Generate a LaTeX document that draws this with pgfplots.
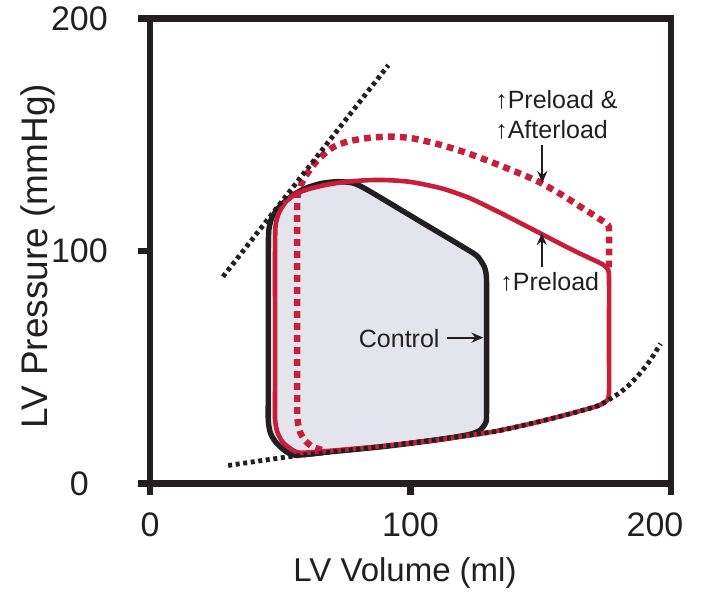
\documentclass[border=0pt]{standalone}
\usepackage{pgfplots}
\pgfplotsset{compat=1.18}
\usepackage{fontspec}
\setmainfont{Liberation Sans}
\usetikzlibrary{arrows.meta}

\definecolor{pvred}{RGB}{200,30,58}
\definecolor{pvfill}{RGB}{228,228,236}
\definecolor{ink}{RGB}{35,31,32}

\begin{document}
\begin{tikzpicture}
\begin{axis}[
  scale only axis,
  width=260.5pt, height=232.5pt,
  xmin=0, xmax=200, ymin=0, ymax=200,
  xtick={0,100,200}, ytick={0,100,200},
  xticklabels={0,100,{\hspace*{-16pt}200}},
  tick align=outside, tick pos=left,
  major tick length=5.8pt,
  axis line style={line width=3.2pt, color=ink},
  tick style={line width=3.2pt, color=ink},
  tick label style={font=\fontsize{17}{20}\selectfont, text=ink},
  /pgf/number format/assume math mode=true,
  yticklabel style={anchor=center, xshift=-29.5pt},
  xticklabel style={anchor=center, yshift=-15pt},
  clip=false,
  every axis plot/.append style={line join=round},
]
% bounding box of the whole picture
\path (axis cs:-57.6,-48.6) rectangle (axis cs:212.3,206.5);

% control loop, filled
\addplot[draw=none, fill=pvfill, smooth, tension=0.4] coordinates {
  (45.4,80) (45.4,40) (45.4,27) (46.3,21.5) (48.5,17.5) (52,14) (56,12.2)
  (70,13.8) (90,16) (110,18.8) (122,21) (126.5,22.8) (128.8,26) (129.2,30)
  (129.2,60) (129.2,87) (128.6,92.5) (126.9,96) (124,99.2)
  (104,112.6) (84,126) (78,129.3) (72,129.9) (66,129.2)
  (60,127.2) (55,124.2) (50,119.5) (46.8,114.5) (45.6,109) (45.4,100) (45.4,80)
} -- cycle;
\addplot[ink, line width=2.7pt, smooth, tension=0.4] coordinates {
  (45.4,80) (45.4,40) (45.4,27) (46.3,21.5) (48.5,17.5) (52,14) (56,12.2)
  (70,13.8) (90,16) (110,18.8) (122,21) (126.5,22.8) (128.8,26) (129.2,30)
  (129.2,60) (129.2,87) (128.6,92.5) (126.9,96) (124,99.2)
  (104,112.6) (84,126) (78,129.3) (72,129.9) (66,129.2)
  (60,127.2) (55,124.2) (50,119.5) (46.8,114.5) (45.6,109) (45.4,100) (45.4,80)
} -- cycle;

% increased preload
\addplot[pvred, line width=2.3pt, smooth, tension=0.4] coordinates {
  (48,80) (48,40) (48,28) (48.8,22.5) (50.8,18) (54,15) (57.6,13.3)
  (70,14.2) (90,16.2) (110,18.8) (130,22) (145,25.5) (157,28.8) (166,31.5)
  (172,33.5) (175.2,35.5) (176.2,39) (176.2,60) (176.2,89) (175.5,92.5)
  (173.5,94.5) (165,99) (157,103.5) (148.4,108.5) (135,116.2) (122.8,122.8)
  (112,127) (100,129.8) (90,130.6) (83,130.5) (75,129.8) (68,128.6)
  (61.5,126.9) (56.3,124.8) (52.3,121.5) (49.5,116.5) (48.2,111) (48,100) (48,80)
} -- cycle;

% increased preload and afterload
\addplot[pvred, line width=3.2pt, dash pattern=on 3.4pt off 2.6pt, smooth, tension=0.4] coordinates {
  (176.2,93) (176.2,109.5) (175.2,111.8) (171,115) (165,119.3) (158,124.3)
  (148.4,130.3) (135,136.6) (122.8,141.8) (112,145.6) (101,148.5) (92,149.3)
  (83,148.6) (76,147.2) (70.4,144.8) (65,140) (61.4,135) (58.8,130.5)
  (57,125.5) (56.5,119) (56.5,80) (56.5,40) (56.6,28) (57.5,22.5)
  (59.5,18.5) (62.5,15.8) (66,14.5)
};

% ESPVR
\addplot[ink, line width=2.4pt, dash pattern=on 2pt off 1.8pt] coordinates {
  (28,89) (91.5,180)
};
% EDPVR
\addplot[ink, line width=2.4pt, dash pattern=on 2pt off 1.8pt, smooth, tension=0.4] coordinates {
  (30,7.8) (55,11.8) (90,16.1) (130,22) (145,25.5) (157,28.8) (166,31.5)
  (172,33.5) (176,36) (180,38.8) (184,42.5) (188,47.3) (192,53) (196,60.2)
};

% annotations
\node[anchor=east, inner sep=0pt, text=ink, font=\fontsize{12.5}{15}\selectfont]
  at (axis cs:111.3,62.5) {Control};
\draw[ink, line width=0.9pt, -{Stealth[length=6pt,width=5pt]}]
  (axis cs:113.9,62.8) -- (axis cs:128,62.8);
\node[anchor=base west, inner sep=0pt, text=ink, font=\fontsize{12.5}{15}\selectfont]
  at (axis cs:132.4,161.3) {↑Preload \&};
\node[anchor=base west, inner sep=0pt, text=ink, font=\fontsize{12.5}{15}\selectfont]
  at (axis cs:132.4,148.4) {↑Afterload};
\draw[ink, line width=0.9pt, -{Stealth[length=6pt,width=5pt]}]
  (axis cs:150.6,145.5) -- (axis cs:150.6,129.3);
\node[anchor=base west, inner sep=0pt, text=ink, font=\fontsize{12.5}{15}\selectfont]
  at (axis cs:134.4,83.1) {↑Preload};
\draw[ink, line width=0.9pt, -{Stealth[length=6pt,width=5pt]}]
  (axis cs:150.4,93.2) -- (axis cs:150.4,107.8);

% axis titles
\node[anchor=base, inner sep=0pt, text=ink, font=\fontsize{16.5}{20}\selectfont]
  at (axis cs:97.9,-42.2) {LV Volume (ml)};
\node[anchor=base, rotate=90, inner sep=0pt, text=ink, font=\fontsize{18.5}{22}\selectfont]
  at (axis cs:-39.2,97.8) {LV Pressure (mmHg)};
\end{axis}
\end{tikzpicture}
\end{document}
